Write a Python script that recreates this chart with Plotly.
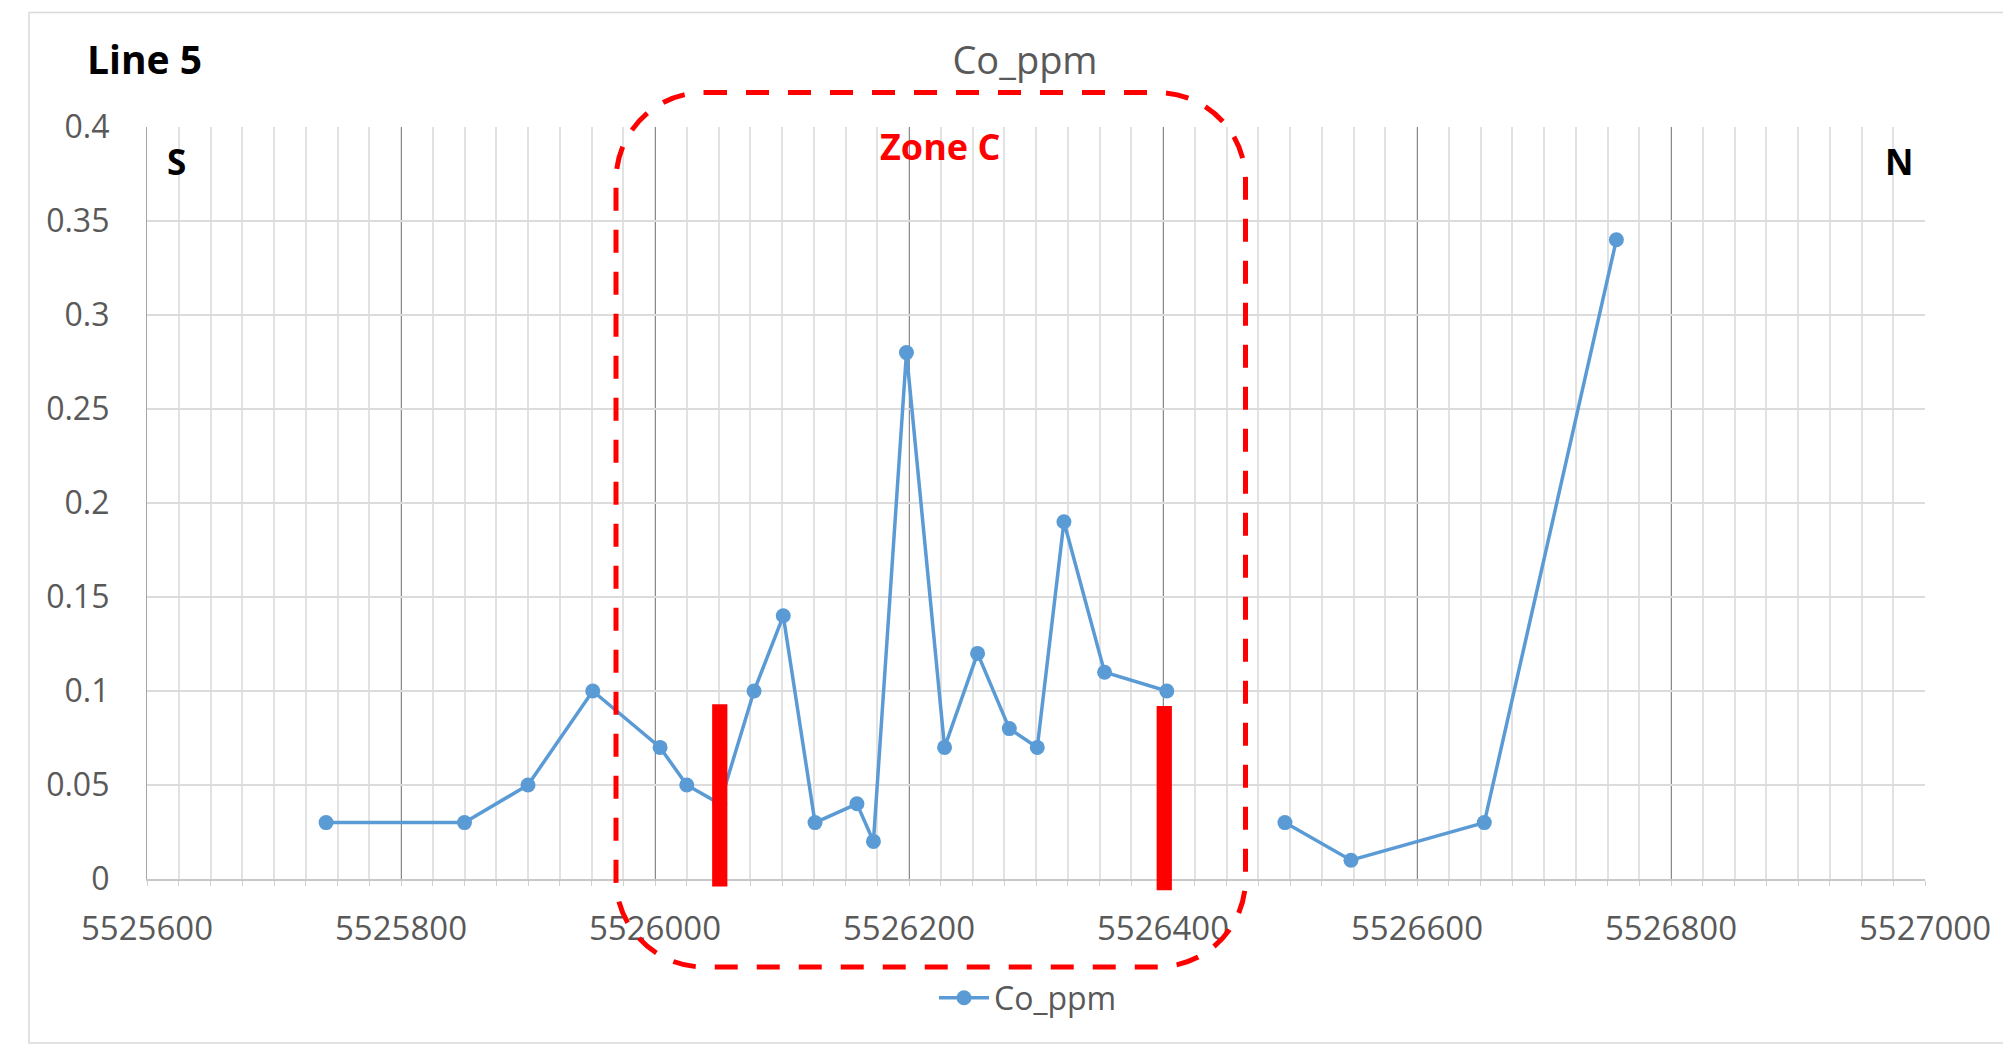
import plotly.graph_objects as go

# ---------------- data ----------------
distance = [5525741, 5525850, 5525900, 5525951, 5526004, 5526025, 5526051, 5526078,
            5526101, 5526126, 5526159, 5526172, 5526198, 5526228, 5526254, 5526279,
            5526301, 5526322, 5526354, 5526403, None,
            5526496, 5526548, 5526653, 5526757]
co_ppm = [0.03, 0.03, 0.05, 0.10, 0.07, 0.05, 0.04, 0.10,
          0.14, 0.03, 0.04, 0.02, 0.28, 0.07, 0.12, 0.08,
          0.07, 0.19, 0.11, 0.10, None,
          0.03, 0.01, 0.03, 0.34]

zone_bar_x = [5526051, 5526401]
zone_bar_top = [0.093, 0.092]
zone_bar_bottom = [-0.004, -0.006]

x_ticks = list(range(5525600, 5527001, 200))
y_ticks = [0, 0.05, 0.1, 0.15, 0.2, 0.25, 0.3, 0.35, 0.4]
y_tick_labels = ["0", "0.05", "0.1", "0.15", "0.2", "0.25", "0.3", "0.35", "0.4"]

X_RANGE = [5525600, 5527000]
Y_RANGE = [0, 0.4]

# ---------------- layout geometry ----------------
W, H = 2003, 1044
ML, MR, MT, MB = 147, 78, 127, 165
PW = W - ML - MR
PH = H - MT - MB


def px(x):
    return (x - ML) / PW


def py(y):
    return (H - MB - y) / PH


def rounded_rect(x0, y0, x1, y1, r):
    k = 0.5523 * r
    pts = [
        ("M", [(x0 + r, y0)]),
        ("L", [(x1 - r, y0)]),
        ("C", [(x1 - r + k, y0), (x1, y0 + r - k), (x1, y0 + r)]),
        ("L", [(x1, y1 - r)]),
        ("C", [(x1, y1 - r + k), (x1 - r + k, y1), (x1 - r, y1)]),
        ("L", [(x0 + r, y1)]),
        ("C", [(x0 + r - k, y1), (x0, y1 - r + k), (x0, y1 - r)]),
        ("L", [(x0, y0 + r)]),
        ("C", [(x0, y0 + r - k), (x0 + r - k, y0), (x0 + r, y0)]),
    ]
    s = ""
    for cmd, ps in pts:
        s += cmd + " ".join("%.5f,%.5f" % (px(a), py(b)) for a, b in ps) + " "
    return s + "Z"


def ydom(v):
    return (v - Y_RANGE[0]) / (Y_RANGE[1] - Y_RANGE[0])


GRAY = "#595959"
FONT = "Open Sans"

fig = go.Figure()

fig.add_trace(go.Scatter(
    x=distance, y=co_ppm, name="Co_ppm", mode="lines+markers",
    line=dict(color="#5B9BD5", width=3.5),
    marker=dict(color="#5B9BD5", size=15),
    connectgaps=False, cliponaxis=False,
))

fig.update_layout(
    width=W, height=H,
    margin=dict(l=ML, r=MR, t=MT, b=MB),
    paper_bgcolor="white", plot_bgcolor="white",
    font=dict(family=FONT, size=32, color=GRAY),
    title=dict(text="Co_ppm", x=1025 / W, xanchor="center",
               y=1 - 61 / H, yanchor="middle",
               font=dict(size=38, color=GRAY, family=FONT)),
    xaxis=dict(
        range=X_RANGE, tickvals=x_ticks, tickformat="d",
        showgrid=True, gridcolor="#8a8a8a", gridwidth=1.3,
        zeroline=False, showline=True, linecolor="#c8c8c8", linewidth=2,
        ticks="", ticklabelstandoff=19,
        tickfont=dict(size=33, color=GRAY),
        minor=dict(dtick=25, tick0=5525600, showgrid=True, gridcolor="#e2e2e2",
                   gridwidth=1.5, ticks="outside", ticklen=5, tickcolor="#d0d0d0"),
    ),
    yaxis=dict(
        range=Y_RANGE, tickvals=y_ticks, ticktext=y_tick_labels,
        showgrid=True, gridcolor="#dcdcdc", gridwidth=1.5,
        zeroline=False, showline=True, linecolor="#a6a6a6", linewidth=1.3,
        ticks="", ticklabelstandoff=30,
        tickfont=dict(size=32, color=GRAY),
    ),
    showlegend=True,
    legend=dict(orientation="h", x=px(1028), xanchor="center",
                y=py(998), yanchor="middle", bgcolor="rgba(0,0,0,0)",
                itemwidth=50,
                font=dict(size=32, color=GRAY, family=FONT)),
)

BAR_HALF = 6  # half bar width in data units
shapes = [
    dict(type="rect", xref="paper", yref="paper",
         x0=px(29), x1=px(2010), y0=py(1043), y1=py(12.5),
         line=dict(color="#d9d9d9", width=1.5), layer="below"),
    dict(type="path", xref="paper", yref="paper",
         path=rounded_rect(616, 92.5, 1245.5, 967, 88),
         line=dict(color="#FF0000", width=5, dash="23px,19px"),
         layer="above"),
]
for bx, bt, bb in zip(zone_bar_x, zone_bar_top, zone_bar_bottom):
    shapes.append(dict(type="rect", xref="x", yref="y domain",
                       x0=bx - BAR_HALF, x1=bx + BAR_HALF,
                       y0=ydom(bb), y1=ydom(bt),
                       fillcolor="#FF0000", line=dict(width=0), layer="above"))
fig.update_layout(shapes=shapes)

annotations = [
    dict(text="<b>Line 5</b>", x=px(85), y=py(58.5), xanchor="left", yanchor="middle",
         font=dict(size=39, color="black", family=FONT)),
    dict(text="<b>S</b>", x=px(176), y=py(161), xanchor="center", yanchor="middle",
         font=dict(size=35, color="black", family=FONT)),
    dict(text="<b>N</b>", x=px(1899), y=py(161), xanchor="center", yanchor="middle",
         font=dict(size=35, color="black", family=FONT)),
    dict(text="<b>Zone C</b>", x=px(940), y=py(147), xanchor="center", yanchor="middle",
         font=dict(size=36, color="#FF0000", family=FONT)),
]
for a in annotations:
    a.update(xref="paper", yref="paper", showarrow=False)
fig.update_layout(annotations=annotations)

fig.write_html("out.html",
               config={"displayModeBar": False},
               post_script="document.body.style.margin='0';document.body.style.overflow='hidden';")
